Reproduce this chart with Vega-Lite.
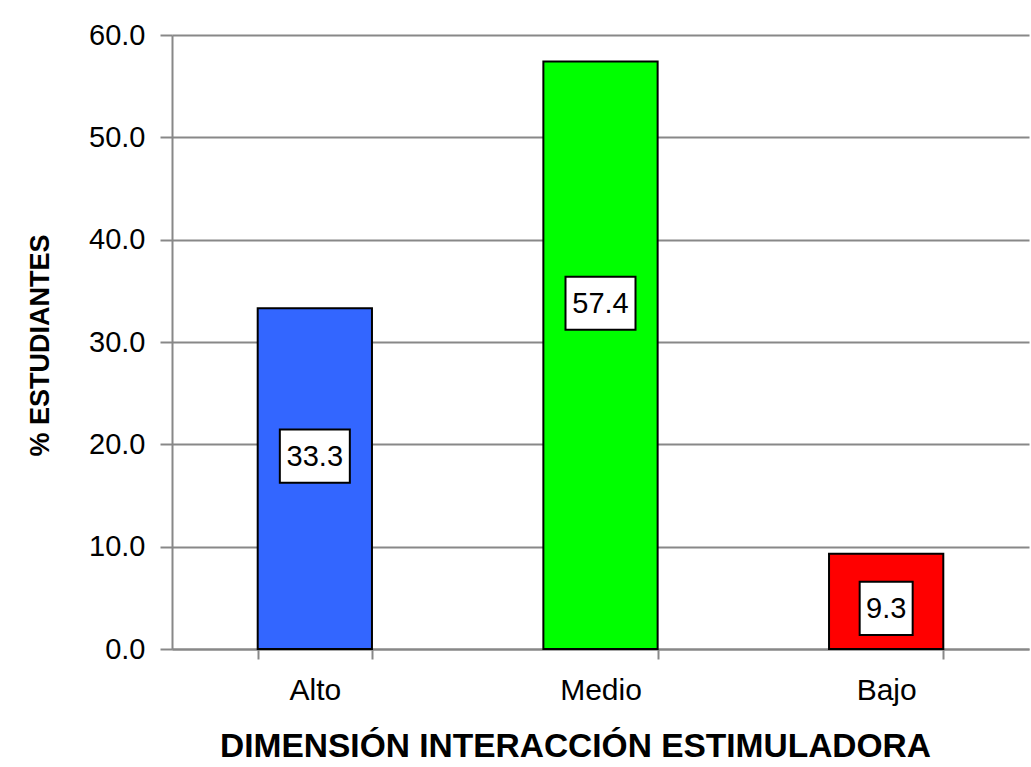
{
  "$schema": "https://vega.github.io/schema/vega-lite/v6.json",
  "width": 857,
  "height": 614,
  "autosize": "none",
  "padding": {"left": 172, "top": 35, "right": 2, "bottom": 118},
  "background": "white",
  "config": {
    "font": "Liberation Sans",
    "view": {"stroke": null}
  },
  "data": {
    "values": [
      {"nivel": "Alto", "valor": 33.3, "etiqueta": "33.3"},
      {"nivel": "Medio", "valor": 57.4, "etiqueta": "57.4"},
      {"nivel": "Bajo", "valor": 9.3, "etiqueta": "9.3"}
    ]
  },
  "transform": [
    {"calculate": "datum.valor * 0.62 - 1.8", "as": "mid"},
    {"calculate": "datum.mid - 2.6", "as": "lo"},
    {"calculate": "datum.mid + 2.6", "as": "hi"}
  ],
  "encoding": {
    "x": {
      "field": "nivel",
      "type": "nominal",
      "sort": ["Alto", "Medio", "Bajo"],
      "scale": {"paddingInner": 0.6, "paddingOuter": 0.3},
      "axis": {
        "title": "DIMENSIÓN INTERACCIÓN ESTIMULADORA",
        "titleFont": "Liberation Sans",
        "titleFontSize": 33.5,
        "titleFontWeight": "bold",
        "titleColor": "black",
        "titleX": 403,
        "titleY": 97,
        "titleBaseline": "middle",
        "labelAngle": 0,
        "labelFontSize": 30,
        "labelColor": "black",
        "labelPadding": 16,
        "labelBaseline": "top",
        "tickBand": "extent",
        "tickSize": 10,
        "tickColor": "#888888",
        "tickWidth": 2,
        "domainColor": "#888888",
        "domainWidth": 2
      }
    }
  },
  "layer": [
    {
      "mark": {"type": "bar", "stroke": "black", "strokeWidth": 2},
      "encoding": {
        "y": {
          "field": "valor",
          "type": "quantitative",
          "scale": {"domain": [0, 60], "nice": false},
          "axis": {
            "title": "% ESTUDIANTES",
            "titleFont": "Liberation Sans",
            "titleFontSize": 27,
            "titleFontWeight": "bold",
            "titleColor": "black",
            "titleX": -132,
            "titleY": 310,
            "titleAngle": -90,
            "titleBaseline": "middle",
            "titleAlign": "center",
            "values": [0, 10, 20, 30, 40, 50, 60],
            "format": ".1f",
            "labelFontSize": 29,
            "labelColor": "black",
            "labelPadding": 15,
            "tickSize": 12,
            "tickColor": "#888888",
            "tickWidth": 2,
            "domainColor": "#888888",
            "domainWidth": 2,
            "grid": true,
            "gridColor": "#888888",
            "gridWidth": 2
          }
        },
        "color": {
          "field": "nivel",
          "type": "nominal",
          "scale": {"domain": ["Alto", "Medio", "Bajo"], "range": ["#3366FF", "#00FF00", "#FF0000"]},
          "legend": null
        }
      }
    },
    {
      "mark": {"type": "bar", "fill": "white", "stroke": "black", "strokeWidth": 2},
      "encoding": {
        "y": {"field": "lo", "type": "quantitative"},
        "y2": {"field": "hi"},
        "size": {"condition": {"test": "datum.valor >= 10", "value": 70}, "value": 53}
      }
    },
    {
      "mark": {"type": "text", "fontSize": 29, "color": "black", "baseline": "middle", "align": "center", "dy": 1},
      "encoding": {
        "y": {"field": "mid", "type": "quantitative"},
        "text": {"field": "etiqueta", "type": "nominal"}
      }
    }
  ]
}
